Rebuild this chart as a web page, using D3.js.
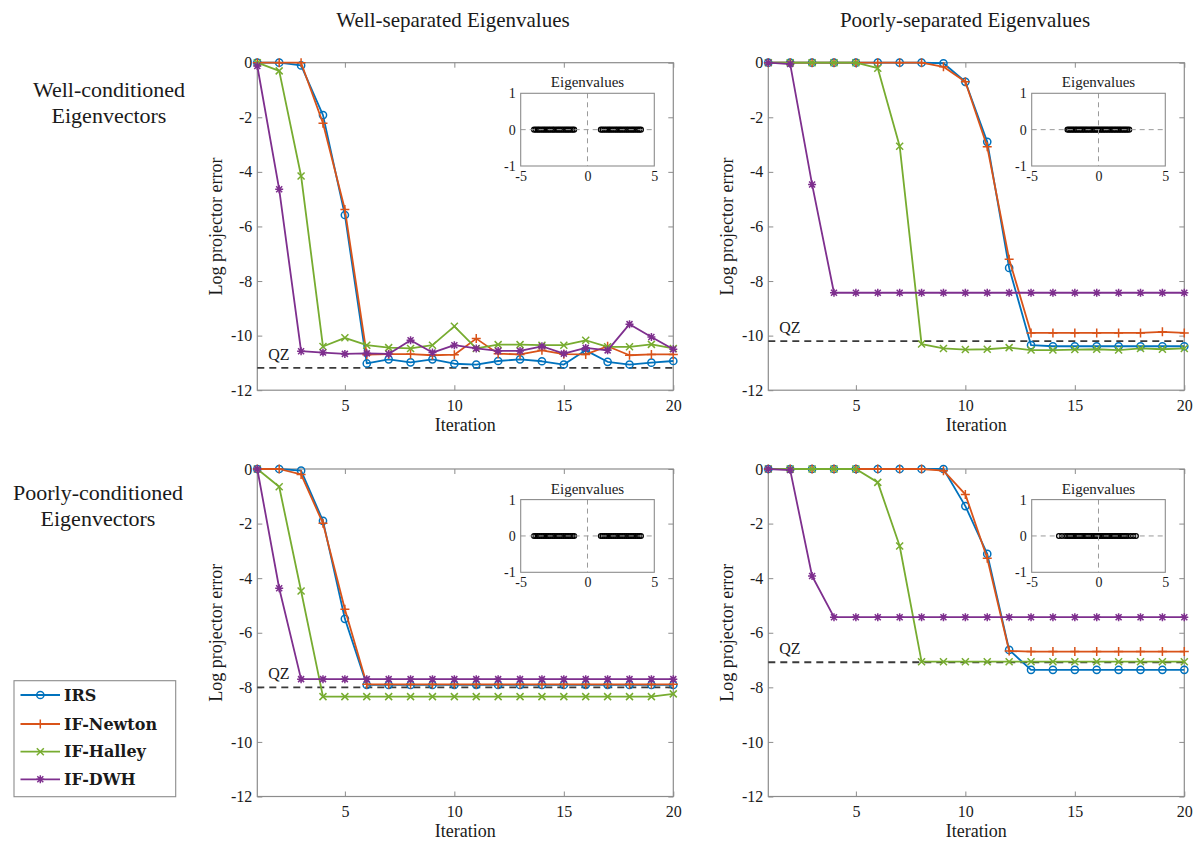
<!DOCTYPE html>
<html>
<head>
<meta charset="utf-8">
<script src="https://cdn.jsdelivr.net/npm/d3@7"></script>
<style>
  body { margin: 0; background: #fff; }
  text { font-family: "Liberation Serif", serif; fill: #1a1a1a; }
</style>
</head>
<body>
<div id="chart"></div>
<script>
// iterations + labels
var iterations = [1,2,3,4,5,6,7,8,9,10,11,12,13,14,15,16,17,18,19,20];
var seriesNames = ["IRS", "IF-Newton", "IF-Halley", "IF-DWH"];
var colTitles = ["Well-separated Eigenvalues", "Poorly-separated Eigenvalues"];
var rowTitles = [["Well-conditioned", "Eigenvectors"], ["Poorly-conditioned", "Eigenvectors"]];
var xTicks = [5, 10, 15, 20];
var yTicks = [0, -2, -4, -6, -8, -10, -12];
var insetXTicks = [-5, 0, 5];
var insetYTicks = [-1, 0, 1];

// top-left: well-separated, well-conditioned
var irsA    = [0,0,-0.1,-1.92,-5.58,-11.02,-10.87,-10.98,-10.87,-11.03,-11.06,-10.93,-10.87,-10.94,-11.06,-10.54,-10.96,-11.06,-10.99,-10.93];
var newtonA = [0,0,0,-2.22,-5.38,-10.7,-10.68,-10.68,-10.72,-10.7,-10.11,-10.66,-10.69,-10.54,-10.68,-10.69,-10.39,-10.72,-10.69,-10.69];
var halleyA = [0,-0.3,-4.15,-10.4,-10.08,-10.35,-10.44,-10.47,-10.35,-9.66,-10.47,-10.33,-10.33,-10.35,-10.35,-10.17,-10.41,-10.41,-10.32,-10.47];
var dwhA    = [-0.12,-4.64,-10.57,-10.62,-10.67,-10.65,-10.67,-10.17,-10.62,-10.35,-10.47,-10.56,-10.56,-10.39,-10.66,-10.45,-10.54,-9.58,-10.05,-10.5];
var qzA = -11.18;

// top-right: poorly-separated, well-conditioned
var irsB    = [0,0,0,0,0,0,0,0,-0.02,-0.7,-2.9,-7.52,-10.35,-10.39,-10.39,-10.39,-10.39,-10.39,-10.39,-10.39];
var newtonB = [0,0,0,0,0,0,0,0,-0.15,-0.7,-3.08,-7.2,-9.9,-9.9,-9.9,-9.9,-9.9,-9.9,-9.86,-9.9];
var halleyB = [0,0,0,0,0,-0.2,-3.06,-10.31,-10.47,-10.51,-10.5,-10.44,-10.53,-10.53,-10.51,-10.5,-10.53,-10.47,-10.5,-10.47];
var dwhB    = [0,-0.05,-4.46,-8.43,-8.43,-8.43,-8.43,-8.43,-8.43,-8.43,-8.43,-8.43,-8.43,-8.43,-8.43,-8.43,-8.43,-8.43,-8.43,-8.43];
var qzB = -10.2;

// bottom-left: well-separated, poorly-conditioned
var irsC    = [0,0,-0.06,-1.9,-5.49,-7.91,-7.91,-7.91,-7.91,-7.91,-7.91,-7.91,-7.91,-7.91,-7.91,-7.91,-7.91,-7.91,-7.91,-7.91];
var newtonC = [0,0,-0.2,-1.99,-5.14,-7.89,-7.89,-7.89,-7.89,-7.89,-7.89,-7.89,-7.89,-7.89,-7.89,-7.89,-7.89,-7.89,-7.89,-7.89];
var halleyC = [0,-0.65,-4.47,-8.34,-8.34,-8.34,-8.34,-8.34,-8.34,-8.34,-8.34,-8.34,-8.34,-8.34,-8.34,-8.34,-8.34,-8.34,-8.34,-8.24];
var dwhC    = [0,-4.37,-7.7,-7.7,-7.7,-7.7,-7.7,-7.7,-7.7,-7.7,-7.7,-7.7,-7.7,-7.7,-7.7,-7.7,-7.7,-7.7,-7.7,-7.7];
var qzC = -8.0;

// bottom-right: poorly-separated, poorly-conditioned
var irsD    = [0,0,0,0,0,0,0,0,0,-1.36,-3.11,-6.63,-7.36,-7.36,-7.36,-7.36,-7.36,-7.36,-7.36,-7.36];
var newtonD = [0,0,0,0,0,0,0,0,-0.06,-0.93,-3.27,-6.67,-6.69,-6.69,-6.69,-6.69,-6.69,-6.69,-6.69,-6.69];
var halleyD = [0,0,0,0,0,-0.49,-2.82,-7.06,-7.06,-7.06,-7.06,-7.06,-7.06,-7.06,-7.06,-7.06,-7.06,-7.06,-7.06,-7.06];
var dwhD    = [0,-0.04,-3.92,-5.43,-5.43,-5.43,-5.43,-5.43,-5.43,-5.43,-5.43,-5.43,-5.43,-5.43,-5.43,-5.43,-5.43,-5.43,-5.43,-5.43];
var qzD = -7.08;

// eigenvalues for the insets (all real, imaginary part 0)
var eigWellSep = [-4.0,-3.86,-3.72,-3.6,-3.45,-3.31,-3.18,-3.04,-2.9,-2.77,-2.62,-2.5,-2.35,-2.21,-2.08,-1.94,-1.8,-1.66,-1.53,-1.4,-1.26,-1.12,-1.0,
                  1.0,1.13,1.27,1.41,1.55,1.68,1.82,1.96,2.1,2.23,2.37,2.5,2.64,2.78,2.92,3.05,3.19,3.33,3.46,3.6,3.74,3.87,4.0];
var eigPoorSep = [-2.32,-2.2,-2.08,-1.96,-1.84,-1.71,-1.6,-1.47,-1.35,-1.23,-1.11,-0.99,-0.87,-0.75,-0.62,-0.5,-0.38,-0.26,-0.14,-0.02,
                  0.1,0.22,0.34,0.46,0.58,0.7,0.83,0.95,1.07,1.19,1.31,1.43,1.55,1.67,1.8,1.92,2.04,2.16,2.3];
var eigPoorSepCond = [-2.96,-2.74,-2.5,-2.34,-2.2,-2.07,-1.95,-1.82,-1.7,-1.57,-1.45,-1.32,-1.2,-1.07,-0.95,-0.82,-0.7,-0.57,-0.45,-0.32,-0.2,-0.07,
                  0.05,0.18,0.3,0.43,0.55,0.68,0.8,0.93,1.05,1.18,1.3,1.43,1.55,1.68,1.8,1.93,2.05,2.2,2.4,2.6,2.8];

var colors = ["#0072BD", "#D95319", "#77AC30", "#7E2F8E"];
var markers = ["circle", "plus", "cross", "star"];

var panels = [
  {left: 257.3, top: 62.7,  series: [irsA, newtonA, halleyA, dwhA], qz: qzA, eig: eigWellSep},
  {left: 768.3, top: 62.7,  series: [irsB, newtonB, halleyB, dwhB], qz: qzB, eig: eigPoorSep},
  {left: 257.3, top: 469,   series: [irsC, newtonC, halleyC, dwhC], qz: qzC, eig: eigWellSep},
  {left: 768.3, top: 469,   series: [irsD, newtonD, halleyD, dwhD], qz: qzD, eig: eigPoorSepCond}
];

var plotW = 416, plotH = 327.5;
var boxColor = "#8c8c8c";

var svg = d3.select("#chart")
  .append("svg")
    .attr("width", 1196)
    .attr("height", 841);

function drawMarker(sel, type, color) {
  if (type == "circle") {
    sel.append("circle").attr("r", 3.6).attr("fill", "none")
      .attr("stroke", color).attr("stroke-width", 1.5);
  } else {
    var p;
    if (type == "plus") p = "M-4.5,0H4.5M0,-4.5V4.5";
    else if (type == "cross") p = "M-3.5,-3.5L3.5,3.5M-3.5,3.5L3.5,-3.5";
    else p = "M-4,0H4M0,-4V4M-3,-3L3,3M-3,3L3,-3";
    sel.append("path").attr("d", p).attr("fill", "none")
      .attr("stroke", color).attr("stroke-width", 1.5);
  }
}

// d3 puts its own font on the axis group, so restyle after the call
function styleAxis(size) {
  return function(g) {
    g.select(".domain").remove();
    g.selectAll(".tick line").attr("stroke", boxColor);
    g.selectAll(".tick text")
      .style("font-family", "'Liberation Serif', serif")
      .style("font-size", size + "px")
      .style("fill", "#1a1a1a");
  };
}
var fmt = function(d) { return String(d); };

panels.forEach(function(p) {
  var x = d3.scaleLinear().domain([1, 20]).range([0, plotW]);
  var y = d3.scaleLinear().domain([-12, 0]).range([plotH, 0]);

  var g = svg.append("g")
    .attr("transform", "translate(" + p.left + "," + p.top + ")");

  // axes, ticks on all four sides pointing inwards
  g.append("g")
    .call(d3.axisLeft(y).tickValues(yTicks).tickSize(-5).tickPadding(5).tickFormat(fmt))
    .call(styleAxis(16));
  g.append("g")
    .attr("transform", "translate(" + plotW + ",0)")
    .call(d3.axisRight(y).tickValues(yTicks).tickSize(-5).tickFormat(""))
    .call(styleAxis(16));
  g.append("g")
    .attr("transform", "translate(0," + plotH + ")")
    .call(d3.axisBottom(x).tickValues(xTicks).tickSize(-5).tickPadding(9))
    .call(styleAxis(16));
  g.append("g")
    .call(d3.axisTop(x).tickValues(xTicks).tickSize(-5).tickFormat(""))
    .call(styleAxis(16));

  g.append("rect")
    .attr("width", plotW).attr("height", plotH)
    .attr("fill", "none").attr("stroke", boxColor).attr("stroke-width", 1.2);

  // axis labels
  g.append("text")
    .attr("transform", "rotate(-90)")
    .attr("x", -plotH / 2).attr("y", -41)
    .attr("dy", "0.32em")
    .attr("text-anchor", "middle")
    .attr("font-size", 18)
    .text("Log projector error");
  g.append("text")
    .attr("x", plotW / 2).attr("y", plotH + 35)
    .attr("dy", "0.32em")
    .attr("text-anchor", "middle")
    .attr("font-size", 18)
    .text("Iteration");

  // QZ reference
  g.append("line")
    .attr("x1", x(1)).attr("x2", x(20))
    .attr("y1", y(p.qz)).attr("y2", y(p.qz))
    .attr("stroke", "#3a3a3a").attr("stroke-width", 1.8)
    .attr("stroke-dasharray", "7,5");
  g.append("text")
    .attr("x", x(1) + 11).attr("y", y(p.qz) - 8)
    .attr("font-size", 16)
    .text("QZ");

  var line = d3.line()
    .x(function(d, i) { return x(iterations[i]); })
    .y(function(d) { return y(d); });

  p.series.forEach(function(s, k) {
    g.append("path")
      .datum(s)
      .attr("fill", "none")
      .attr("stroke", colors[k])
      .attr("stroke-width", 1.8)
      .attr("stroke-linejoin", "round")
      .attr("d", line);
    g.selectAll(".m" + k)
      .data(s)
      .enter().append("g")
      .attr("class", "m" + k)
      .attr("transform", function(d, i) { return "translate(" + x(iterations[i]) + "," + y(d) + ")"; })
      .each(function() { drawMarker(d3.select(this), markers[k], colors[k]); });
  });

  // inset with eigenvalues
  var iw = 133.6, ih = 72.7;
  var ig = g.append("g").attr("transform", "translate(263.4,30.6)");
  var xi = d3.scaleLinear().domain([-5, 5]).range([0, iw]);
  var yi = d3.scaleLinear().domain([-1, 1]).range([ih, 0]);

  ig.append("rect").attr("width", iw).attr("height", ih).attr("fill", "#fff");
  ig.selectAll(".eig")
    .data(p.eig)
    .enter().append("circle")
    .attr("class", "eig")
    .attr("cx", function(d) { return xi(d); })
    .attr("cy", yi(0))
    .attr("r", 2.4)
    .attr("fill", "none")
    .attr("stroke", "#000")
    .attr("stroke-width", 1.3);
  ig.append("line")
    .attr("x1", xi(0)).attr("x2", xi(0)).attr("y1", 0).attr("y2", ih)
    .attr("stroke", "#9a9a9a").attr("stroke-width", 1).attr("stroke-dasharray", "5,4");
  ig.append("line")
    .attr("x1", 0).attr("x2", iw).attr("y1", yi(0)).attr("y2", yi(0))
    .attr("stroke", "#9a9a9a").attr("stroke-width", 1).attr("stroke-dasharray", "5,4");
  ig.append("rect").attr("width", iw).attr("height", ih)
    .attr("fill", "none").attr("stroke", boxColor).attr("stroke-width", 1.1);

  ig.append("g")
    .attr("transform", "translate(0," + ih + ")")
    .call(d3.axisBottom(xi).tickValues(insetXTicks).tickSize(0).tickPadding(5).tickFormat(fmt))
    .call(styleAxis(14));
  ig.append("g")
    .call(d3.axisLeft(yi).tickValues(insetYTicks).tickSize(0).tickPadding(5).tickFormat(fmt))
    .call(styleAxis(14));
  ig.append("text")
    .attr("x", iw / 2).attr("y", -6)
    .attr("text-anchor", "middle")
    .attr("font-size", 15)
    .text("Eigenvalues");
});

// column titles
svg.selectAll(".coltitle")
  .data(colTitles)
  .enter().append("text")
  .attr("class", "coltitle")
  .attr("x", function(d, i) { return i == 0 ? 453 : 965; })
  .attr("y", 27)
  .attr("text-anchor", "middle")
  .attr("font-size", 21)
  .text(function(d) { return d; });

// row titles
rowTitles.forEach(function(r, i) {
  var cx = i == 0 ? 109 : 98;
  var base = i == 0 ? 97 : 500;
  r.forEach(function(t, j) {
    svg.append("text")
      .attr("x", cx).attr("y", base + j * 26)
      .attr("text-anchor", "middle")
      .attr("font-size", 22)
      .text(t);
  });
});

// legend
var legend = svg.append("g").attr("transform", "translate(14,680.7)");
legend.append("rect")
  .attr("width", 161.7).attr("height", 116)
  .attr("fill", "#fff").attr("stroke", boxColor).attr("stroke-width", 1.1);
var legendY = [14.3, 43.3, 71, 98.6];
seriesNames.forEach(function(name, k) {
  var row = legend.append("g").attr("transform", "translate(0," + legendY[k] + ")");
  row.append("line")
    .attr("x1", 6.5).attr("x2", 46)
    .attr("stroke", colors[k]).attr("stroke-width", 1.8);
  var m = row.append("g").attr("transform", "translate(26.3,0)");
  drawMarker(m, markers[k], colors[k]);
  row.append("text")
    .attr("x", 50).attr("dy", "0.36em")
    .style("font-family", "'DejaVu Serif', serif")
    .attr("font-weight", "bold")
    .attr("font-size", 16)
    .text(name);
});
</script>
</body>
</html>
